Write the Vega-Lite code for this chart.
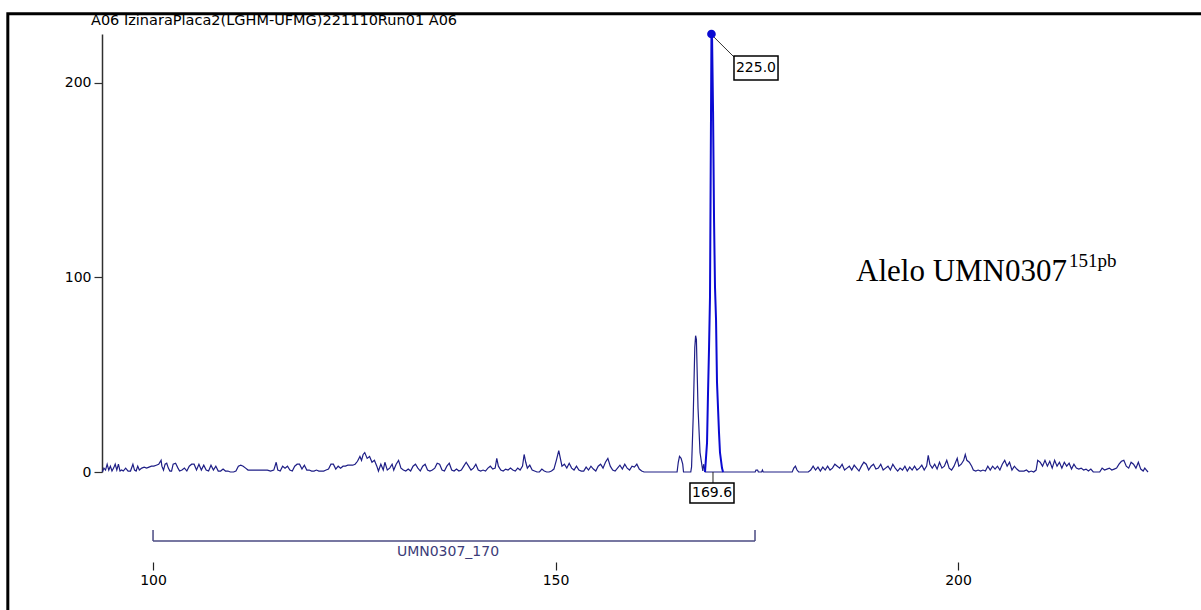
{
"$schema":"https://vega.github.io/schema/vega-lite/v6.json",
"autosize":"none",
"padding":{"left":102,"top":34,"right":53,"bottom":138},
"width":1046,
"height":438,
"background":"white",
"config":{"view":{"stroke":null},"font":"DejaVu Sans"},
"datasets":{
"trace":[
{"s":93.7,"v":0},{"s":93.9,"v":2},{"s":94.1,"v":1},{"s":94.3,"v":4},{"s":94.5,"v":1},{"s":94.7,"v":3},{"s":94.9,"v":0.5},{"s":95.1,"v":2},{"s":95.3,"v":4},{"s":95.5,"v":1},{"s":95.7,"v":4},{"s":95.9,"v":0.5},{"s":96.1,"v":1},{"s":96.3,"v":0.5},{"s":96.6,"v":2},{"s":96.9,"v":0.5},{"s":97.2,"v":0.5},{"s":97.5,"v":4},{"s":97.7,"v":1},{"s":97.9,"v":0.5},{"s":98.1,"v":3},{"s":98.3,"v":1},{"s":98.6,"v":2},{"s":98.9,"v":2.5},{"s":99.2,"v":2},{"s":99.5,"v":2.5},{"s":99.8,"v":3},{"s":100.1,"v":3},{"s":100.4,"v":3.5},{"s":100.7,"v":4},{"s":101.0,"v":6},{"s":101.1,"v":3},{"s":101.3,"v":1},{"s":101.5,"v":4},{"s":101.7,"v":4.5},{"s":101.9,"v":2},{"s":102.1,"v":0.5},{"s":102.3,"v":0.5},{"s":102.5,"v":4},{"s":102.8,"v":4.5},{"s":103.1,"v":2},{"s":103.3,"v":0.5},{"s":103.6,"v":1},{"s":103.9,"v":2},{"s":104.2,"v":0.5},{"s":104.5,"v":3},{"s":104.8,"v":4},{"s":105.1,"v":4},{"s":105.4,"v":1},{"s":105.7,"v":4},{"s":106.0,"v":1},{"s":106.3,"v":3.5},{"s":106.6,"v":1},{"s":106.9,"v":0.5},{"s":107.2,"v":3.5},{"s":107.5,"v":1},{"s":107.8,"v":3},{"s":108.1,"v":0.5},{"s":108.4,"v":0.5},{"s":108.7,"v":1.5},{"s":109.0,"v":0.5},{"s":109.3,"v":0.5},{"s":109.6,"v":0},{"s":110.0,"v":0},{"s":110.3,"v":0.5},{"s":110.6,"v":3},{"s":110.9,"v":3.5},{"s":111.2,"v":3},{"s":111.5,"v":2},{"s":111.8,"v":1},{"s":112.2,"v":1},{"s":112.6,"v":1},{"s":113.0,"v":1},{"s":113.4,"v":1},{"s":113.8,"v":1},{"s":114.2,"v":1},{"s":114.6,"v":0.5},{"s":115.0,"v":1},{"s":115.3,"v":5},{"s":115.5,"v":1},{"s":115.8,"v":0.5},{"s":116.1,"v":3},{"s":116.4,"v":2},{"s":116.7,"v":3},{"s":117.0,"v":1},{"s":117.3,"v":0.5},{"s":117.6,"v":3},{"s":117.9,"v":4},{"s":118.2,"v":4},{"s":118.5,"v":1.5},{"s":118.8,"v":3.5},{"s":119.1,"v":1},{"s":119.4,"v":1},{"s":119.7,"v":0.5},{"s":120.0,"v":0.5},{"s":120.3,"v":1},{"s":120.6,"v":0.5},{"s":120.9,"v":0.5},{"s":121.2,"v":0.5},{"s":121.5,"v":1},{"s":121.8,"v":1.5},{"s":122.1,"v":4},{"s":122.4,"v":4},{"s":122.7,"v":1.5},{"s":123.0,"v":3},{"s":123.3,"v":2},{"s":123.6,"v":3},{"s":123.9,"v":3},{"s":124.2,"v":3.5},{"s":124.5,"v":3.5},{"s":124.8,"v":3.5},{"s":125.1,"v":4},{"s":125.4,"v":5.5},{"s":125.7,"v":8},{"s":125.9,"v":6},{"s":126.1,"v":9},{"s":126.3,"v":10},{"s":126.6,"v":7},{"s":126.9,"v":8},{"s":127.2,"v":5},{"s":127.5,"v":6},{"s":127.8,"v":3},{"s":128.0,"v":0.5},{"s":128.3,"v":4},{"s":128.6,"v":1},{"s":128.8,"v":5},{"s":129.1,"v":1},{"s":129.4,"v":2},{"s":129.7,"v":4},{"s":129.9,"v":1},{"s":130.2,"v":4},{"s":130.5,"v":6},{"s":130.8,"v":2},{"s":131.1,"v":1},{"s":131.4,"v":0.5},{"s":131.7,"v":1.5},{"s":132.0,"v":0.5},{"s":132.3,"v":3},{"s":132.6,"v":4},{"s":132.9,"v":2},{"s":133.2,"v":0.5},{"s":133.5,"v":3},{"s":133.8,"v":4},{"s":134.1,"v":1},{"s":134.4,"v":0.5},{"s":134.7,"v":1},{"s":135.0,"v":2},{"s":135.3,"v":4.5},{"s":135.6,"v":4},{"s":135.9,"v":1},{"s":136.2,"v":0.5},{"s":136.5,"v":3},{"s":136.8,"v":4.5},{"s":137.1,"v":1},{"s":137.4,"v":0.5},{"s":137.7,"v":1.5},{"s":138.0,"v":0.5},{"s":138.3,"v":1},{"s":138.6,"v":3},{"s":138.9,"v":5},{"s":139.2,"v":3},{"s":139.5,"v":1},{"s":139.8,"v":2},{"s":140.1,"v":4},{"s":140.4,"v":1},{"s":140.7,"v":0.5},{"s":141.0,"v":1},{"s":141.3,"v":0.5},{"s":141.6,"v":2},{"s":141.9,"v":3},{"s":142.2,"v":1.5},{"s":142.5,"v":2},{"s":142.7,"v":7},{"s":142.9,"v":3},{"s":143.2,"v":1},{"s":143.5,"v":0.5},{"s":143.8,"v":1.5},{"s":144.1,"v":1},{"s":144.4,"v":2},{"s":144.7,"v":1},{"s":145.0,"v":0.5},{"s":145.3,"v":2},{"s":145.6,"v":1},{"s":145.9,"v":3},{"s":146.1,"v":9},{"s":146.3,"v":5},{"s":146.5,"v":2},{"s":146.8,"v":3.5},{"s":147.1,"v":1},{"s":147.4,"v":0.5},{"s":147.7,"v":0},{"s":148.0,"v":0},{"s":148.3,"v":1.5},{"s":148.6,"v":0.5},{"s":148.9,"v":0},{"s":149.2,"v":0},{"s":149.5,"v":0.5},{"s":149.8,"v":1.5},{"s":150.1,"v":6},{"s":150.4,"v":11},{"s":150.6,"v":7},{"s":150.8,"v":3},{"s":151.1,"v":4},{"s":151.4,"v":2},{"s":151.7,"v":4.5},{"s":152.0,"v":2},{"s":152.3,"v":1},{"s":152.6,"v":3},{"s":152.9,"v":1},{"s":153.2,"v":0.5},{"s":153.5,"v":0.5},{"s":153.8,"v":2.5},{"s":154.1,"v":1},{"s":154.4,"v":3},{"s":154.7,"v":1.5},{"s":155.0,"v":0.5},{"s":155.3,"v":3},{"s":155.6,"v":4},{"s":155.9,"v":2},{"s":156.2,"v":5},{"s":156.5,"v":7},{"s":156.8,"v":3},{"s":157.1,"v":1},{"s":157.4,"v":0.5},{"s":157.7,"v":2},{"s":158.0,"v":3.5},{"s":158.3,"v":1.5},{"s":158.6,"v":4},{"s":158.9,"v":2},{"s":159.2,"v":1},{"s":159.5,"v":3},{"s":159.8,"v":2.5},{"s":160.1,"v":4},{"s":160.4,"v":1.5},{"s":160.7,"v":0.5},{"s":161.0,"v":0},{"s":165.1,"v":0},{"s":165.25,"v":5},{"s":165.4,"v":8},{"s":165.6,"v":7},{"s":165.8,"v":4},{"s":165.9,"v":0},{"s":166.8,"v":0},{"s":166.9,"v":2.6},{"s":167.1,"v":28},{"s":167.3,"v":64},{"s":167.4,"v":70},{"s":167.5,"v":68},{"s":167.7,"v":33},{"s":167.95,"v":10},{"s":168.2,"v":3},{"s":168.3,"v":0.5},{"s":168.4,"v":4},{"s":168.5,"v":2},{"s":168.6,"v":0},{"s":170.9,"v":0},{"s":174.8,"v":0},{"s":174.9,"v":1},{"s":175.1,"v":1},{"s":175.2,"v":0},{"s":175.6,"v":0},{"s":175.7,"v":1},{"s":175.8,"v":0},{"s":179.4,"v":0},{"s":179.6,"v":2},{"s":179.8,"v":3},{"s":180.0,"v":1},{"s":180.2,"v":0},{"s":181.4,"v":0},{"s":181.7,"v":1},{"s":182.0,"v":3},{"s":182.3,"v":1},{"s":182.6,"v":2.5},{"s":182.9,"v":0.5},{"s":183.2,"v":2.5},{"s":183.5,"v":1},{"s":183.8,"v":3},{"s":184.1,"v":1},{"s":184.4,"v":2},{"s":184.7,"v":4},{"s":185.0,"v":3},{"s":185.3,"v":2},{"s":185.6,"v":4},{"s":185.9,"v":1},{"s":186.2,"v":2},{"s":186.5,"v":3},{"s":186.8,"v":1},{"s":187.1,"v":3.5},{"s":187.4,"v":2},{"s":187.7,"v":0.5},{"s":188.0,"v":3},{"s":188.3,"v":5},{"s":188.6,"v":4},{"s":188.9,"v":1},{"s":189.2,"v":3},{"s":189.5,"v":4},{"s":189.8,"v":1.5},{"s":190.1,"v":2},{"s":190.4,"v":4},{"s":190.7,"v":1},{"s":191.0,"v":2},{"s":191.3,"v":3},{"s":191.6,"v":1},{"s":191.9,"v":4},{"s":192.2,"v":2},{"s":192.5,"v":0.5},{"s":192.8,"v":2},{"s":193.1,"v":1},{"s":193.4,"v":3},{"s":193.7,"v":0.5},{"s":194.0,"v":2.5},{"s":194.3,"v":1},{"s":194.6,"v":3},{"s":194.9,"v":1},{"s":195.2,"v":2},{"s":195.5,"v":3.5},{"s":195.8,"v":1},{"s":196.1,"v":3},{"s":196.3,"v":8.5},{"s":196.5,"v":4},{"s":196.8,"v":2},{"s":197.1,"v":4},{"s":197.4,"v":1.5},{"s":197.7,"v":5},{"s":198.0,"v":2},{"s":198.3,"v":3},{"s":198.6,"v":6},{"s":198.9,"v":2},{"s":199.2,"v":1},{"s":199.5,"v":3},{"s":199.9,"v":7},{"s":200.1,"v":3},{"s":200.4,"v":4},{"s":200.7,"v":6},{"s":200.9,"v":9},{"s":201.1,"v":6},{"s":201.4,"v":5},{"s":201.7,"v":3},{"s":201.9,"v":1},{"s":202.2,"v":0.5},{"s":202.5,"v":1},{"s":202.8,"v":0.5},{"s":203.1,"v":1},{"s":203.4,"v":0.5},{"s":203.7,"v":3},{"s":204.0,"v":1},{"s":204.3,"v":3},{"s":204.6,"v":1.5},{"s":204.9,"v":3},{"s":205.2,"v":1},{"s":205.5,"v":4},{"s":205.8,"v":6},{"s":206.1,"v":3},{"s":206.4,"v":5},{"s":206.7,"v":1},{"s":207.0,"v":3},{"s":207.3,"v":1.5},{"s":207.6,"v":0.5},{"s":207.9,"v":0.5},{"s":208.2,"v":0.5},{"s":208.5,"v":1},{"s":208.8,"v":0},{"s":209.1,"v":0.5},{"s":209.4,"v":0},{"s":209.7,"v":1},{"s":209.9,"v":6},{"s":210.2,"v":5},{"s":210.5,"v":3},{"s":210.8,"v":6},{"s":211.1,"v":3},{"s":211.4,"v":5.5},{"s":211.7,"v":2},{"s":212.0,"v":6},{"s":212.3,"v":3},{"s":212.6,"v":5},{"s":212.9,"v":2},{"s":213.2,"v":5},{"s":213.5,"v":3},{"s":213.8,"v":4.5},{"s":214.1,"v":1.5},{"s":214.4,"v":4},{"s":214.7,"v":2},{"s":215.0,"v":1.5},{"s":215.3,"v":2},{"s":215.6,"v":1},{"s":215.9,"v":1.5},{"s":216.2,"v":0.5},{"s":216.5,"v":1.5},{"s":216.8,"v":0},{"s":217.6,"v":0},{"s":217.9,"v":2},{"s":218.2,"v":1},{"s":218.5,"v":1.5},{"s":218.8,"v":2},{"s":219.1,"v":1},{"s":219.4,"v":1.5},{"s":219.7,"v":2},{"s":220.0,"v":4},{"s":220.3,"v":5.5},{"s":220.6,"v":6},{"s":220.9,"v":3},{"s":221.2,"v":2},{"s":221.5,"v":5},{"s":221.8,"v":4},{"s":222.1,"v":2},{"s":222.4,"v":5},{"s":222.7,"v":1.5},{"s":223.0,"v":0.5},{"s":223.2,"v":2},{"s":223.4,"v":1},{"s":223.6,"v":0}
],
"peak":[
{"s":168.57,"v":0},{"s":168.82,"v":15},{"s":168.94,"v":40},{"s":169.07,"v":64},{"s":169.19,"v":90},{"s":169.27,"v":150},{"s":169.37,"v":225},{"s":169.45,"v":222},{"s":169.57,"v":185},{"s":169.69,"v":130},{"s":169.81,"v":95},{"s":169.94,"v":78},{"s":170.06,"v":46},{"s":170.31,"v":20},{"s":170.43,"v":10},{"s":170.68,"v":2},{"s":170.81,"v":0}
],
"bin":[{"start":100,"end":174.78,"label":"UMN0307_170"}]
},
"layer":[
{
"data":{"values":[{}]},
"mark":{"type":"rect","filled":false,"stroke":"black","strokeWidth":3},
"encoding":{
"x":{"datum":81.96,"type":"quantitative","scale":{"domain":[93.66,223.6],"nice":false,"zero":false},"axis":{"values":[100,150,200],"title":null,"domain":false,"grid":false,"ticks":true,"tickSize":8,"tickColor":"#222","tickWidth":1.2,"offset":90,"labelPadding":3,"labelFont":"DejaVu Sans","labelFontSize":14,"labelColor":"black"}},
"x2":{"datum":231.9},
"y":{"datum":235.4,"type":"quantitative","scale":{"domain":[0,225],"nice":false,"zero":false},"axis":{"values":[0,100,200],"title":null,"grid":false,"domain":true,"domainColor":"#303030","domainWidth":1.5,"tickSize":8,"tickColor":"#303030","tickWidth":1.2,"labelPadding":3,"labelFont":"DejaVu Sans","labelFontSize":14,"labelColor":"black"}},
"y2":{"datum":-78.6}
}
},
{
"data":{"name":"trace"},
"mark":{"type":"line","color":"#1e1e86","strokeWidth":1.2,"interpolate":"linear"},
"encoding":{"x":{"field":"s","type":"quantitative"},"y":{"field":"v","type":"quantitative"}}
},
{
"data":{"name":"peak"},
"mark":{"type":"line","color":"#0a0ad2","strokeWidth":2,"interpolate":"linear"},
"encoding":{"x":{"field":"s","type":"quantitative"},"y":{"field":"v","type":"quantitative"}}
},
{
"data":{"values":[{}]},
"mark":{"type":"rule","color":"#333","strokeWidth":1},
"encoding":{"x":{"datum":169.37},"y":{"datum":224.7},"x2":{"datum":172.17},"y2":{"datum":213.2}}
},
{
"data":{"values":[{}]},
"mark":{"type":"point","filled":true,"color":"#0a0ad2","size":75,"opacity":1},
"encoding":{"x":{"datum":169.37},"y":{"datum":225}}
},
{
"data":{"values":[{}]},
"mark":{"type":"rect","fill":"white","stroke":"black","strokeWidth":1.5},
"encoding":{"x":{"datum":172.17},"x2":{"datum":177.64},"y":{"datum":213.7},"y2":{"datum":201.4}}
},
{
"data":{"values":[{"t":"225.0"}]},
"mark":{"type":"text","font":"DejaVu Sans","fontSize":14,"color":"black","align":"center","baseline":"middle"},
"encoding":{"x":{"datum":174.9},"y":{"datum":207.5},"text":{"field":"t"}}
},
{
"data":{"values":[{}]},
"mark":{"type":"rule","color":"#222","strokeWidth":1},
"encoding":{"x":{"datum":169.56},"y":{"datum":0},"y2":{"datum":-5.65}}
},
{
"data":{"values":[{}]},
"mark":{"type":"rect","fill":"white","stroke":"black","strokeWidth":1.5},
"encoding":{"x":{"datum":166.7},"x2":{"datum":172.17},"y":{"datum":-5.65},"y2":{"datum":-15.92}}
},
{
"data":{"values":[{"t":"169.6"}]},
"mark":{"type":"text","font":"DejaVu Sans","fontSize":14,"color":"black","align":"center","baseline":"middle"},
"encoding":{"x":{"datum":169.44},"y":{"datum":-10.79},"text":{"field":"t"}}
},
{
"data":{"name":"bin"},
"mark":{"type":"rule","color":"#4a4a82","strokeWidth":1.5},
"encoding":{"x":{"field":"start","type":"quantitative"},"x2":{"field":"end"},"y":{"datum":-35.45}}
},
{
"data":{"name":"bin"},
"mark":{"type":"rule","color":"#4a4a82","strokeWidth":1.5},
"encoding":{"x":{"field":"start","type":"quantitative"},"y":{"datum":-29.79},"y2":{"datum":-35.45}}
},
{
"data":{"name":"bin"},
"mark":{"type":"rule","color":"#4a4a82","strokeWidth":1.5},
"encoding":{"x":{"field":"end","type":"quantitative"},"y":{"datum":-29.79},"y2":{"datum":-35.45}}
},
{
"data":{"name":"bin"},
"mark":{"type":"text","font":"DejaVu Sans","fontSize":14,"color":"#3c3c78","align":"center","baseline":"top"},
"encoding":{"x":{"datum":136.64},"y":{"datum":-37.5},"text":{"field":"label"}}
},
{
"data":{"values":[{"t":"A06 IzinaraPlaca2(LGHM-UFMG)221110Run01 A06"}]},
"mark":{"type":"text","font":"DejaVu Sans","fontSize":14.5,"color":"black","align":"left","baseline":"alphabetic"},
"encoding":{"x":{"datum":92.29},"y":{"datum":229.4},"text":{"field":"t"}}
},
{
"data":{"values":[{"t":"Alelo UMN0307"}]},
"mark":{"type":"text","font":"Liberation Serif","fontSize":31,"color":"black","align":"right","baseline":"alphabetic"},
"encoding":{"x":{"datum":213.54},"y":{"datum":98.1},"text":{"field":"t"}}
},
{
"data":{"values":[{"t":"151pb"}]},
"mark":{"type":"text","font":"Liberation Serif","fontSize":19,"color":"black","align":"left","baseline":"alphabetic"},
"encoding":{"x":{"datum":213.79},"y":{"datum":105.5},"text":{"field":"t"}}
}
]
}
